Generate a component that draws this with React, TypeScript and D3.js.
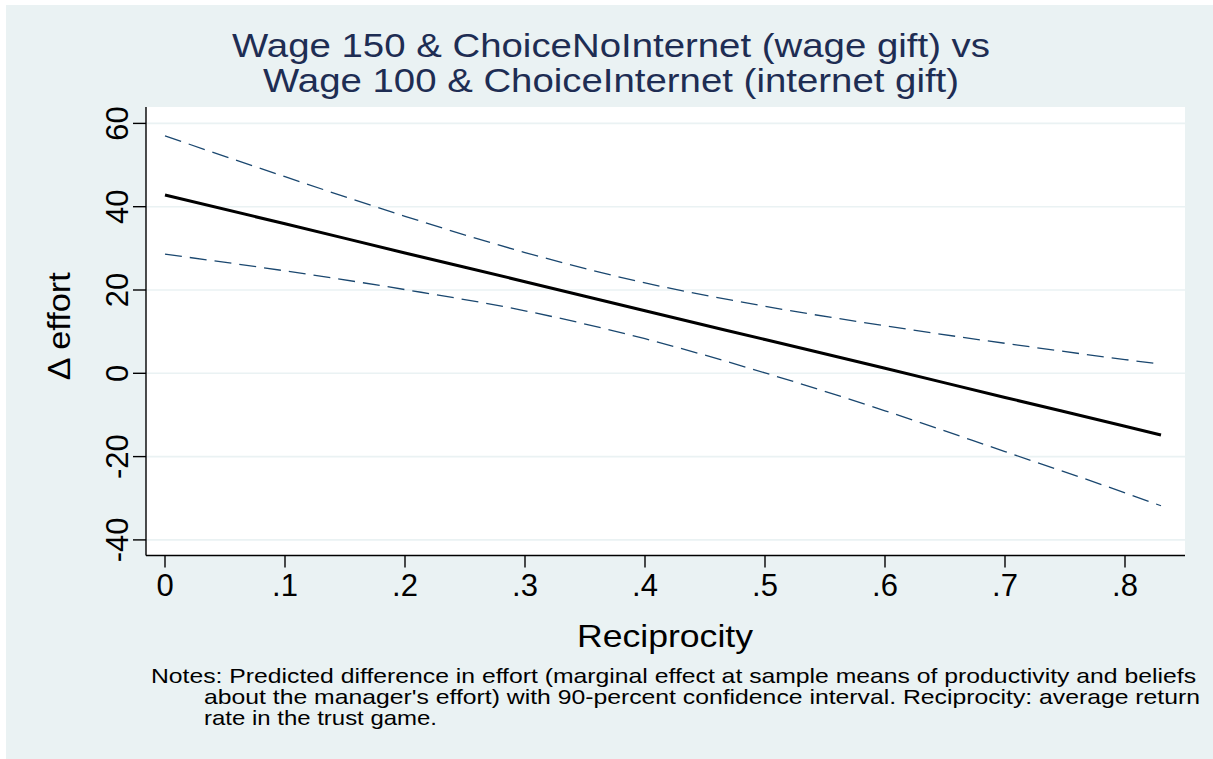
import React from "react";
import * as d3 from "d3";

const W = 1213;
const H = 759;

const reciprocity = [0, 0.1, 0.2, 0.3, 0.4, 0.5, 0.6, 0.7, 0.8, 0.83];
const effortEst = [42.8, 35.9, 28.9, 22.0, 15.0, 8.1, 1.2, -5.8, -12.7, -14.8];
const ciUpper = [57.0, 47.2, 37.7, 29.0, 21.7, 16.1, 11.4, 7.2, 3.3, 2.2];
const ciLower = [28.6, 24.6, 20.1, 15.0, 8.3, 0.1, -9.0, -18.8, -28.7, -31.8];

const xTicks = [0, 0.1, 0.2, 0.3, 0.4, 0.5, 0.6, 0.7, 0.8];
const xTickLabels = ["0", ".1", ".2", ".3", ".4", ".5", ".6", ".7", ".8"];
const yTicks = [-40, -20, 0, 20, 40, 60];

const titleLines = [
  "Wage 150 & ChoiceNoInternet (wage gift) vs",
  "Wage 100 & ChoiceInternet (internet gift)",
];
const noteLines = [
  "Notes: Predicted difference in effort (marginal effect at sample means of productivity and beliefs",
  "about the manager's effort) with 90-percent confidence interval. Reciprocity: average return",
  "rate in the trust game.",
];

const FONT = "'Liberation Sans', Arial, Helvetica, sans-serif";

export default function App() {
  const left = 146;
  const right = 1185;
  const top = 107;
  const bottom = 555.5;

  const x = d3.scaleLinear().domain([0, 0.1]).range([165, 285]);
  const y = d3.scaleLinear().domain([0, 20]).range([373.3, 290]);

  const pts = (vals: number[]) => reciprocity.map((r, i) => [r, vals[i]] as [number, number]);
  const line = d3
    .line<[number, number]>()
    .x((d) => x(d[0]))
    .y((d) => y(d[1]))
    .curve(d3.curveMonotoneX);

  return (
    <svg width={W} height={H} style={{ position: "absolute", left: 0, top: 0 }}>
      <rect x={0} y={0} width={W} height={H} fill="#ffffff" />
      <rect x={6} y={5} width={W - 6} height={H - 5} fill="#EAF2F3" />
      <rect x={left} y={top} width={right - left} height={bottom - top} fill="#ffffff" />

      {yTicks.map((t) => (
        <line key={"g" + t} x1={left} x2={right} y1={y(t)} y2={y(t)} stroke="#EAF2F3" strokeWidth={1.6} />
      ))}

      <path d={line(pts(ciUpper)) || ""} fill="none" stroke="#1a476f" strokeWidth={1.3} strokeDasharray="17 8" />
      <path d={line(pts(ciLower)) || ""} fill="none" stroke="#1a476f" strokeWidth={1.3} strokeDasharray="17 8" />
      <path d={line(pts(effortEst)) || ""} fill="none" stroke="#000000" strokeWidth={3} />

      <line x1={left} x2={left} y1={top} y2={bottom} stroke="#000" strokeWidth={1.4} />
      <line x1={left} x2={right} y1={bottom} y2={bottom} stroke="#000" strokeWidth={1.4} />

      {yTicks.map((t) => (
        <g key={"y" + t}>
          <line x1={left - 13} x2={left} y1={y(t)} y2={y(t)} stroke="#000" strokeWidth={1.4} />
          <text
            transform={`translate(128,${y(t)}) rotate(-90)`}
            textAnchor="middle"
            fontFamily={FONT}
            fontSize={31}
            fill="#000"
          >
            {String(t)}
          </text>
        </g>
      ))}

      {xTicks.map((t, i) => (
        <g key={"x" + t}>
          <line x1={x(t)} x2={x(t)} y1={bottom} y2={bottom + 12} stroke="#000" strokeWidth={1.4} />
          <text x={x(t)} y={596} textAnchor="middle" fontFamily={FONT} fontSize={31} fill="#000">
            {xTickLabels[i]}
          </text>
        </g>
      ))}

      <text
        transform={`translate(70,${(top + bottom) / 2 - 5}) rotate(-90)`}
        textAnchor="middle"
        fontFamily={FONT}
        fontSize={32}
        fill="#000"
        textLength={108}
        lengthAdjust="spacingAndGlyphs"
      >
        Δ effort
      </text>

      <text x={577} y={647} fontFamily={FONT} fontSize={32} fill="#000" textLength={176} lengthAdjust="spacingAndGlyphs">
        Reciprocity
      </text>

      <text x={232} y={57} fontFamily={FONT} fontSize={33} fill="#1e2d53" textLength={758} lengthAdjust="spacingAndGlyphs">
        {titleLines[0]}
      </text>
      <text x={263} y={92} fontFamily={FONT} fontSize={33} fill="#1e2d53" textLength={696} lengthAdjust="spacingAndGlyphs">
        {titleLines[1]}
      </text>

      <text x={151} y={683} fontFamily={FONT} fontSize={21} fill="#000" textLength={1045} lengthAdjust="spacingAndGlyphs">
        {noteLines[0]}
      </text>
      <text x={204} y={704} fontFamily={FONT} fontSize={21} fill="#000" textLength={996} lengthAdjust="spacingAndGlyphs">
        {noteLines[1]}
      </text>
      <text x={204} y={725} fontFamily={FONT} fontSize={21} fill="#000" textLength={233} lengthAdjust="spacingAndGlyphs">
        {noteLines[2]}
      </text>
    </svg>
  );
}
